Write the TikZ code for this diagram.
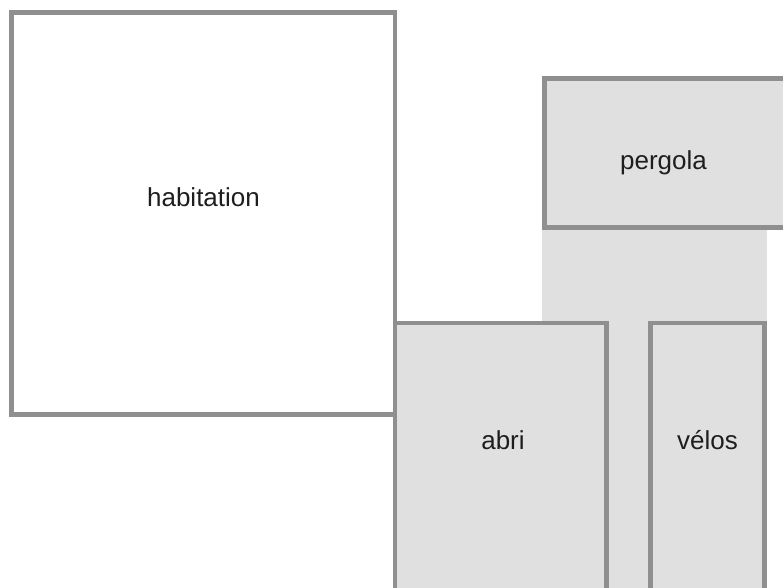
\documentclass[tikz,border=0pt]{standalone}
\usepackage{fontspec}
\setmainfont{Liberation Sans}
\definecolor{wallgray}{HTML}{8F8F8F}
\definecolor{roomfill}{HTML}{E0E0E0}
\definecolor{labeltext}{HTML}{1E1E1E}
\begin{document}
\begin{tikzpicture}[x=1pt,y=-1pt,
  room/.style={draw=wallgray,line width=4.8pt,fill=roomfill},
  house/.style={draw=wallgray,line width=4.8pt,fill=white},
  lbl/.style={font=\fontsize{26}{31}\selectfont,text=labeltext,anchor=base,inner sep=0pt}]
\useasboundingbox (0,0) rectangle (783,587);
\clip (0,0) rectangle (783,587);
% open area under pergola
\fill[roomfill] (542,225) rectangle (767,600);
% pergola
\draw[room] (544.5,78.5) rectangle (800,227.5);
% abri
\draw[room] (395,323) rectangle (606.5,600);
% velos
\draw[room] (650.5,323) rectangle (764.5,600);
% habitation
\draw[house] (11.5,12.5) rectangle (395,414.5);
\node[lbl] (habitation) at (203.5,206) {habitation};
\node[lbl] (pergola) at (663.5,169) {pergola};
\node[lbl] (abri) at (503,449) {abri};
\node[lbl] (velos) at (707.5,449) {vélos};
\end{tikzpicture}
\end{document}
